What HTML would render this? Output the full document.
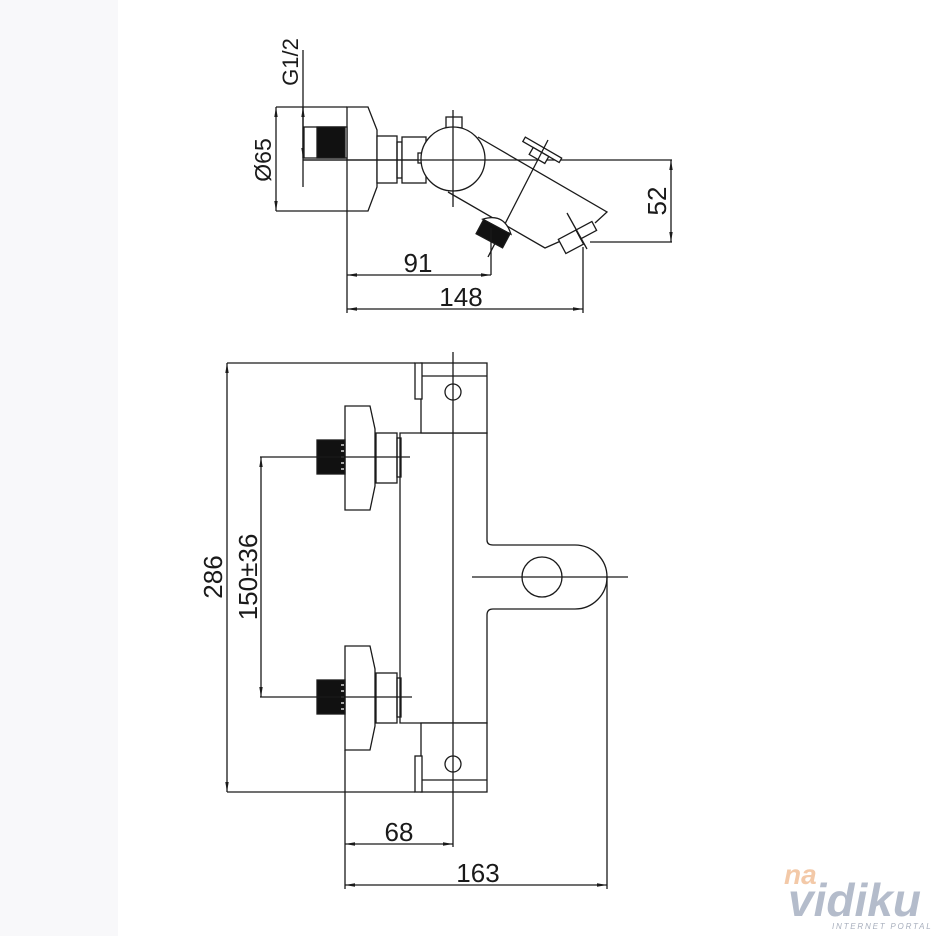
<!DOCTYPE html>
<html><head><meta charset="utf-8"><style>
html,body{margin:0;padding:0;background:#fff}
svg{display:block}
text{font-family:"Liberation Sans",Arial,sans-serif;fill:#1a1a1a}
</style></head><body>
<svg width="936" height="936" viewBox="0 0 936 936" xmlns="http://www.w3.org/2000/svg">
<rect x="0" y="0" width="118" height="936" fill="#f8f8fa"/>
<defs>
<marker id="a" markerWidth="10" markerHeight="6" refX="10" refY="3" orient="auto" markerUnits="userSpaceOnUse">
<path d="M0,1.3 L10,3 L0,4.7 Z" fill="#1a1a1a"/></marker>
</defs>
<g stroke="#1a1a1a" stroke-width="1.3" fill="none">
<!-- ===== TOP VIEW ===== -->
<line x1="303" y1="50" x2="303" y2="187"/>
<line x1="276" y1="107" x2="347" y2="107"/>
<line x1="276" y1="211" x2="347" y2="211"/>
<line x1="276" y1="160" x2="276" y2="107" marker-end="url(#a)"/>
<line x1="276" y1="160" x2="276" y2="211" marker-end="url(#a)"/>
<line x1="303" y1="140" x2="303" y2="107" marker-end="url(#a)"/>
<line x1="303" y1="140" x2="303" y2="158" marker-end="url(#a)"/>
<path d="M347,107 L368,107 L377,130 L377,187 L368,211 L347,211 Z" fill="#fff"/>
<rect x="304" y="127" width="43" height="31" fill="#fff"/>
<rect x="317" y="127" width="28" height="31" fill="#111"/>
<rect x="377" y="136" width="20" height="47" fill="#fff"/>
<rect x="397" y="142" width="5" height="36"/>
<rect x="402" y="137" width="24" height="46" fill="#fff"/>
<line x1="303" y1="160" x2="672" y2="160"/>
<!-- spout -->
<path d="M478,137 L607,212 L595,223 M563,240 L545,248 L448,192"/>
<rect x="446" y="117" width="16" height="11" fill="#fff"/>
<rect x="418" y="153" width="8" height="10" fill="#fff"/>
<circle cx="453" cy="159" r="32" fill="#fff"/>
<line x1="453" y1="110" x2="453" y2="207"/>
<line x1="303" y1="160" x2="485" y2="160"/>
<g transform="rotate(30 541 152)">
<rect x="520" y="147" width="42" height="5" fill="#fff"/>
<rect x="532" y="152" width="18" height="8" fill="#fff"/>
</g>
<line x1="548" y1="140" x2="488" y2="257"/>
<g transform="rotate(28 494 232)">
<path d="M478,226 Q494,210 510,226 Z" fill="#fff"/>
<rect x="479" y="226" width="30" height="16" fill="#111"/>
</g>
<line x1="491" y1="228" x2="491" y2="275"/>
<g transform="rotate(-28 578 238)">
<rect x="560" y="230" width="20" height="16" fill="#fff"/>
<rect x="580" y="230" width="18" height="10" fill="#fff"/>
</g>
<line x1="567" y1="213" x2="587" y2="249"/>
<line x1="590" y1="242" x2="672" y2="242"/>
<line x1="671" y1="200" x2="671" y2="160" marker-end="url(#a)"/>
<line x1="671" y1="200" x2="671" y2="242" marker-end="url(#a)"/>
<line x1="347" y1="211" x2="347" y2="313"/>
<line x1="583" y1="247" x2="583" y2="313"/>
<line x1="420" y1="275" x2="347" y2="275" marker-end="url(#a)"/>
<line x1="420" y1="275" x2="491" y2="275" marker-end="url(#a)"/>
<line x1="460" y1="309" x2="347" y2="309" marker-end="url(#a)"/>
<line x1="460" y1="309" x2="583" y2="309" marker-end="url(#a)"/>

<!-- ===== FRONT VIEW ===== -->
<line x1="227" y1="363" x2="415" y2="363"/>
<line x1="227" y1="792" x2="415" y2="792"/>
<line x1="227" y1="577" x2="227" y2="363" marker-end="url(#a)"/>
<line x1="227" y1="577" x2="227" y2="792" marker-end="url(#a)"/>
<path d="M400,433 L487,433 L487,540 Q487,545 493,545 L575,545 A32,32 0 0 1 575,609 L493,609 Q487,609 487,615 L487,723 L400,723 Z" fill="#fff"/>
<rect x="421" y="363" width="66" height="70" fill="#fff"/>
<line x1="421" y1="376" x2="487" y2="376"/>
<rect x="415" y="363" width="7" height="36" fill="#fff"/>
<rect x="421" y="723" width="66" height="69" fill="#fff"/>
<line x1="421" y1="780" x2="487" y2="780"/>
<rect x="415" y="756" width="7" height="36" fill="#fff"/>
<circle cx="453" cy="392" r="8"/>
<circle cx="453" cy="764" r="8"/>
<line x1="453" y1="352" x2="453" y2="847"/>
<circle cx="542" cy="577" r="20"/>
<line x1="472" y1="577" x2="628" y2="577"/>
<line x1="607" y1="577" x2="607" y2="889"/>
<g>
<path d="M345,406 L370,406 L375,429 L375,486 L370,510 L345,510 Z" fill="#fff"/>
<rect x="317" y="440" width="28" height="34" fill="#111"/>
<path d="M341,445 h3 M341,451 h3 M341,457 h3 M341,463 h3 M341,469 h3" stroke="#fff"/>
<rect x="376" y="433" width="21" height="50" fill="#fff"/>
<rect x="397" y="438" width="4" height="39"/>
<line x1="260" y1="457" x2="410" y2="457"/>
</g>
<g transform="translate(0,240)">
<path d="M345,406 L370,406 L375,429 L375,486 L370,510 L345,510 Z" fill="#fff"/>
<rect x="317" y="440" width="28" height="34" fill="#111"/>
<path d="M341,445 h3 M341,451 h3 M341,457 h3 M341,463 h3 M341,469 h3" stroke="#fff"/>
<rect x="376" y="433" width="21" height="50" fill="#fff"/>
<rect x="397" y="438" width="4" height="39"/>
<line x1="260" y1="457" x2="412" y2="457"/>
</g>
<line x1="261" y1="577" x2="261" y2="457" marker-end="url(#a)"/>
<line x1="261" y1="577" x2="261" y2="697" marker-end="url(#a)"/>
<line x1="345" y1="750" x2="345" y2="889"/>
<line x1="399" y1="844" x2="345" y2="844" marker-end="url(#a)"/>
<line x1="399" y1="844" x2="453" y2="844" marker-end="url(#a)"/>
<line x1="476" y1="885" x2="345" y2="885" marker-end="url(#a)"/>
<line x1="476" y1="885" x2="607" y2="885" marker-end="url(#a)"/>
</g>
<text x="0" y="0" font-size="22" text-anchor="middle" transform="translate(298,62) rotate(-90)">G1/2</text>
<text x="0" y="0" font-size="23" text-anchor="middle" transform="translate(271,160) rotate(-90)">Ø65</text>
<text x="0" y="0" font-size="26" text-anchor="middle" transform="translate(666,201) rotate(-90)">52</text>
<text x="418" y="272" font-size="26" text-anchor="middle">91</text>
<text x="461" y="306" font-size="26" text-anchor="middle">148</text>
<text x="0" y="0" font-size="26" text-anchor="middle" transform="translate(222,577) rotate(-90)">286</text>
<text x="0" y="0" font-size="26" text-anchor="middle" transform="translate(257,577) rotate(-90)">150±36</text>
<text x="399" y="841" font-size="26" text-anchor="middle">68</text>
<text x="478" y="882" font-size="26" text-anchor="middle">163</text>
<text x="784" y="884" font-size="28" font-style="italic" font-weight="bold" style="fill:#f3c9a8">na</text>
<text x="788" y="916" font-size="46" font-style="italic" font-weight="bold" style="fill:#b4bccb">vidiku</text>
<text x="832" y="929" font-size="8" font-style="italic" letter-spacing="1.8" style="fill:#a8afbd">INTERNET PORTAL</text>
</svg>
</body></html>
